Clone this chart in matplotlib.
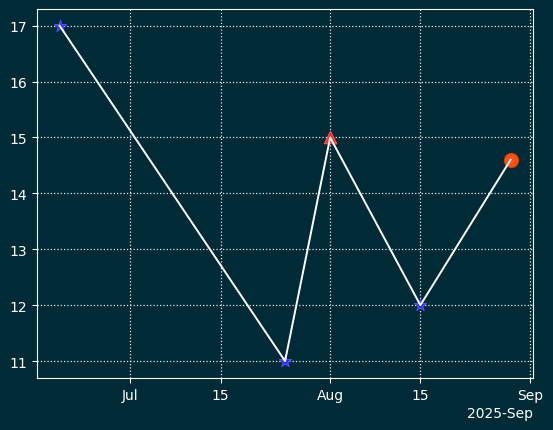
import matplotlib
matplotlib.use("Agg")
import matplotlib.pyplot as plt
import matplotlib.dates as mdates
import numpy as np

# data
dates = np.array(["2025-06-20", "2025-07-25", "2025-08-01", "2025-08-15", "2025-08-29"], dtype="datetime64[D]")
values = [17, 11, 15, 12, 14.6]
blue_idx = [0, 1, 3]
red_idx = [2]
last_idx = [4]

bg = "#002b36"
fig, ax = plt.subplots(figsize=(5.53, 4.31), dpi=100, facecolor=bg)
ax.set_facecolor(bg)
fig.subplots_adjust(left=0.067, right=0.964, top=0.977, bottom=0.121)

d = dates.astype("datetime64[ms]").astype(object)
v = np.array(values)
ax.scatter([d[i] for i in blue_idx], v[blue_idx], marker="*", s=80, color="#2a2aff",
           edgecolors="#5050ff", linewidths=0.8, zorder=2)
ax.scatter([d[i] for i in red_idx], v[red_idx], marker="^", s=80, color="#ff2a2a",
           edgecolors="#ff5050", linewidths=0.8, zorder=2)
ax.scatter([d[i] for i in last_idx], v[last_idx], marker="o", s=105, color="#ff5010",
           edgecolors="#c84010", linewidths=0.8, zorder=2)
ax.plot(d, v, color="white", linewidth=1.4, zorder=3)

loc = mdates.AutoDateLocator()
ax.xaxis.set_major_locator(loc)
ax.xaxis.set_major_formatter(mdates.ConciseDateFormatter(loc))

ax.grid(True, color="white", linestyle=":", linewidth=0.9, alpha=0.9)
ax.set_axisbelow(True)
for s in ax.spines.values():
    s.set_color("white")
ax.tick_params(colors="white", labelcolor="white")
ax.xaxis.get_offset_text().set_color("white")

fig.savefig("out.png", facecolor=bg)
